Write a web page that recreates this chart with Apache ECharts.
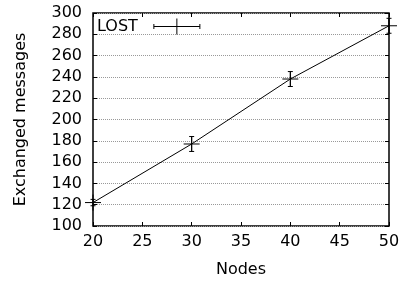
<!DOCTYPE html>
<html>
<head>
<meta charset="utf-8">
<script src="https://cdn.jsdelivr.net/npm/echarts@6/dist/echarts.min.js"></script>
<style>
html, body { margin: 0; padding: 0; background: #fff; }
#chart { width: 406px; height: 283px; }
</style>
</head>
<body>
<div id="chart"></div>
<script>
// data
const nodes = [20, 30, 40, 50];
const messages = [122, 177, 238, 288];
const errors = [3, 7, 7, 7];
const seriesName = 'LOST';

const font = 'DejaVu Sans';
const chart = echarts.init(document.getElementById('chart'));

const points = nodes.map((n, i) => [n, messages[i], errors[i]]);

const option = {
  animation: false,
  textStyle: { fontFamily: font },
  grid: { left: 93, right: 17, top: 13, bottom: 57, show: true, borderColor: '#000', borderWidth: 1.5 },
  legend: {
    data: [seriesName],
    left: 92, top: 11,
    align: 'right',
    itemWidth: 46, itemHeight: 16,
    icon: 'path://M0,8 L46,8 M0,5.5 L0,10.5 M46,5.5 L46,10.5 M23,0 L23,16',
    itemStyle: { color: 'none', borderColor: '#000', borderWidth: 1 },
    textStyle: { fontFamily: font, fontSize: 16, color: '#000', padding: [0, 11, 0, 0] }
  },
  xAxis: [{
    type: 'value', min: 20, max: 50, interval: 5,
    name: 'Nodes', nameLocation: 'middle', nameGap: 36,
    nameTextStyle: { fontFamily: font, fontSize: 16, color: '#000' },
    axisLine: { show: false },
    axisTick: { inside: true, length: 4, lineStyle: { color: '#000' } },
    axisLabel: { fontFamily: font, fontSize: 16, color: '#000', margin: 8 },
    splitLine: { show: false }
  }, {
    type: 'value', min: 20, max: 50, interval: 5, position: 'top',
    axisLine: { show: false },
    axisTick: { inside: true, length: 4, lineStyle: { color: '#000' } },
    axisLabel: { show: false },
    splitLine: { show: false }
  }],
  yAxis: [{
    type: 'value', min: 100, max: 300, interval: 20,
    name: 'Exchanged messages', nameLocation: 'middle', nameGap: 64,
    nameTextStyle: { fontFamily: font, fontSize: 16, color: '#000' },
    axisLine: { show: false },
    axisTick: { inside: true, length: 4, lineStyle: { color: '#000' } },
    axisLabel: { fontFamily: font, fontSize: 16, color: '#000', margin: 11 },
    splitLine: { show: true, lineStyle: { color: '#999', type: [1, 1], width: 1 } }
  }, {
    type: 'value', min: 100, max: 300, interval: 20, position: 'right',
    axisLine: { show: false },
    axisTick: { inside: true, length: 4, lineStyle: { color: '#000' } },
    axisLabel: { show: false },
    splitLine: { show: false }
  }],
  series: [{
    name: seriesName,
    type: 'line',
    data: points.map(p => [p[0], p[1]]),
    symbol: 'none',
    lineStyle: { color: '#000', width: 1 },
    itemStyle: { color: '#000' },
    z: 3
  }, {
    name: 'err',
    type: 'custom',
    data: points,
    clip: false,
    z: 4,
    renderItem: function (params, api) {
      const x = api.value(0), y = api.value(1), e = api.value(2);
      const c = api.coord([x, y]);
      const lo = api.coord([x, y - e]);
      const hi = api.coord([x, y + e]);
      const st = { stroke: '#000', lineWidth: 1 };
      const cap = 2.5, h = 8;
      return {
        type: 'group',
        children: [
          { type: 'line', shape: { x1: c[0], y1: hi[1], x2: c[0], y2: lo[1] }, style: st },
          { type: 'line', shape: { x1: c[0] - cap, y1: hi[1], x2: c[0] + cap, y2: hi[1] }, style: st },
          { type: 'line', shape: { x1: c[0] - cap, y1: lo[1], x2: c[0] + cap, y2: lo[1] }, style: st },
          { type: 'line', shape: { x1: c[0] - h, y1: c[1], x2: c[0] + h, y2: c[1] }, style: st },
          { type: 'line', shape: { x1: c[0], y1: c[1] - h, x2: c[0], y2: c[1] + h }, style: st }
        ]
      };
    }
  }]
};
chart.setOption(option);
</script>
</body>
</html>
